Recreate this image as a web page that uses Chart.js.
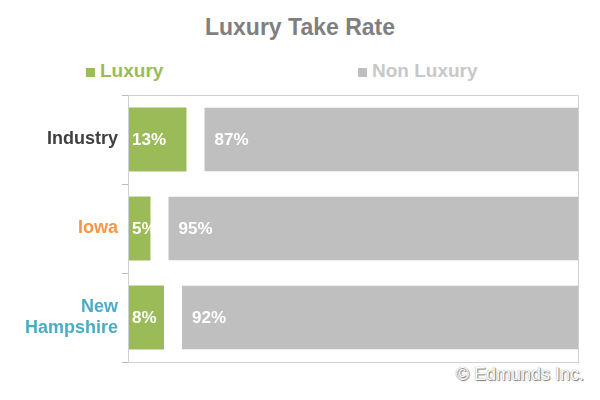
<!DOCTYPE html><html><head><script src="https://cdn.jsdelivr.net/npm/chart.js@4"></script>
<style>body{margin:0;background:#fff;font-family:Arial,"Liberation Sans",sans-serif}
#w{position:relative;width:600px;height:400px}
.t{position:absolute;font-weight:bold}
</style></head><body><div id="w">
<div class="t" style="left:0;width:600px;top:14px;text-align:center;font-size:23px;color:#7f7f7f">Luxury Take Rate</div>
<div class="t" style="left:86px;top:60px;font-size:19px;color:#9BBB59"><span style="display:inline-block;width:9px;height:9px;background:#9BBB59;margin-right:5px"></span>Luxury</div>
<div class="t" style="left:358px;top:60px;font-size:19px;color:#c8c8c8"><span style="display:inline-block;width:9px;height:9px;background:#BFBFBF;margin-right:5px"></span>Non Luxury</div>
<div style="position:absolute;right:16px;top:364px;font-size:18px;color:#fff;text-shadow:0 0 1px #777,1px 1px 1px #777">© Edmunds Inc.</div>
<canvas id="c" width="600" height="400" style="position:absolute;left:0;top:0"></canvas></div>
<script>
const categories=[["Industry"],["Iowa"],["New","Hampshire"]];
const luxury=[13,5,8];
const nonLuxury=[87,95,92];
const labelColors=["#404040","#F79646","#4BACC6"];
const inLabels={id:'inl',afterDatasetsDraw(ch){const x=ch.ctx;x.save();x.font='bold 17px Arial';x.fillStyle='#fff';x.textBaseline='middle';
ch.data.datasets.forEach((d,i)=>{ch.getDatasetMeta(i).data.forEach((b,j)=>{const st=b.base+(i?18:0);x.fillText(d.data[j]+'%',st+(i?10:4),b.y+1);});});
const a=ch.chartArea;x.strokeStyle='#d0d0d0';x.lineWidth=1;x.strokeRect(a.left+.5,a.top+.5,a.right-a.left,a.bottom-a.top);x.restore();}};
new Chart(document.getElementById('c'),{type:'bar',data:{labels:categories,datasets:[
{label:'Luxury',data:luxury,backgroundColor:'#9BBB59',barPercentage:0.72,categoryPercentage:1},
{label:'Non Luxury',data:nonLuxury,backgroundColor:'#BFBFBF',borderColor:'#fff',borderWidth:{left:18,right:0,top:0,bottom:0},borderSkipped:false,barPercentage:0.72,categoryPercentage:1}]},
options:{indexAxis:'y',responsive:false,animation:false,layout:{padding:{left:0,right:22,top:95,bottom:38}},
plugins:{legend:{display:false},tooltip:{enabled:false}},
scales:{x:{stacked:true,min:0,max:100,display:false},y:{stacked:true,grid:{display:true,drawOnChartArea:false,offset:true,tickLength:6,color:'#bbb'},border:{color:'#bbb'},
afterFit(s){s.width=128;},ticks:{font:{size:18,weight:'bold'},color:c=>labelColors[c.index],padding:4}}}},plugins:[inLabels]});
</script></body></html>
